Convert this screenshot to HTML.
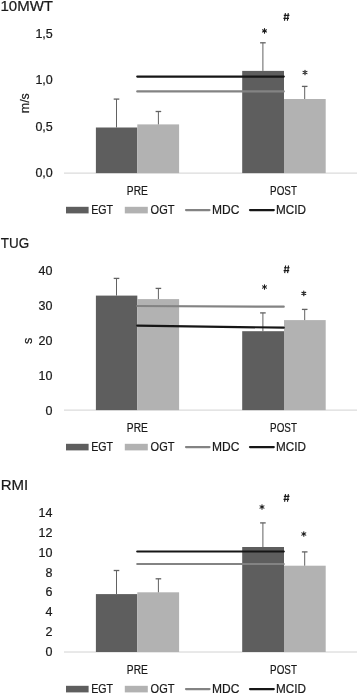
<!DOCTYPE html>
<html><head><meta charset="utf-8"><style>
html,body{margin:0;padding:0;background:#fff;}
svg{display:block;filter:grayscale(1);}
text{font-family:"Liberation Sans",sans-serif;fill:#1a1a1a;stroke:#1a1a1a;stroke-width:0.22px;}
</style></head><body>
<svg width="358" height="694" viewBox="0 0 358 694">
<rect width="358" height="694" fill="#fff"/>
<line x1="64" y1="173.1" x2="357" y2="173.1" stroke="#d2d2d2" stroke-width="1"/>
<rect x="95.9" y="127.5" width="41.4" height="45.6" fill="#5e5e5e"/>
<rect x="137.3" y="124.4" width="41.8" height="48.7" fill="#b2b2b2"/>
<rect x="242.2" y="70.9" width="41.8" height="102.2" fill="#5e5e5e"/>
<rect x="284.0" y="99.0" width="41.7" height="74.1" fill="#b2b2b2"/>
<line x1="116.5" y1="127.5" x2="116.5" y2="99.1" stroke="#626262" stroke-width="1"/>
<line x1="113.7" y1="99.1" x2="119.3" y2="99.1" stroke="#626262" stroke-width="1.3"/>
<line x1="158.4" y1="124.4" x2="158.4" y2="111.5" stroke="#626262" stroke-width="1"/>
<line x1="155.6" y1="111.5" x2="161.2" y2="111.5" stroke="#626262" stroke-width="1.3"/>
<line x1="262.9" y1="70.9" x2="262.9" y2="42.8" stroke="#626262" stroke-width="1"/>
<line x1="260.1" y1="42.8" x2="265.7" y2="42.8" stroke="#626262" stroke-width="1.3"/>
<line x1="304.7" y1="99.0" x2="304.7" y2="86.4" stroke="#626262" stroke-width="1"/>
<line x1="301.9" y1="86.4" x2="307.5" y2="86.4" stroke="#626262" stroke-width="1.3"/>
<line x1="137.25" y1="91.4" x2="283.75" y2="91.4" stroke="#838383" stroke-width="2.2" stroke-linecap="round"/>
<line x1="137.25" y1="76.6" x2="283.75" y2="76.6" stroke="#161616" stroke-width="2.2" stroke-linecap="round"/>
<path transform="translate(264.5,30.9)" d="M0,-2.25V2.25M-1.95,-1.12L1.95,1.12M-1.95,1.12L1.95,-1.12" stroke="#1a1a1a" stroke-width="1.1" stroke-linecap="round" fill="none"/>
<path transform="translate(305.0,72.5)" d="M0,-2.25V2.25M-1.95,-1.12L1.95,1.12M-1.95,1.12L1.95,-1.12" stroke="#1a1a1a" stroke-width="1.1" stroke-linecap="round" fill="none"/>
<path transform="translate(286.5,16.9)" d="M-1.1,-3.8L-2.0,3.8M1.8,-3.8L0.9,3.8M-2.7,-1.5H2.9M-3.1,1.4H2.5" stroke="#1a1a1a" stroke-width="1.15" fill="none"/>
<rect x="66" y="206.8" width="22.6" height="6.6" fill="#5e5e5e"/>
<rect x="124.8" y="206.8" width="23" height="6.6" fill="#b2b2b2"/>
<line x1="186" y1="210.1" x2="209.5" y2="210.1" stroke="#838383" stroke-width="2.2" stroke-linecap="round"/>
<line x1="250" y1="210.1" x2="273.8" y2="210.1" stroke="#161616" stroke-width="2.2" stroke-linecap="round"/>
<line x1="64" y1="410.1" x2="357" y2="410.1" stroke="#d2d2d2" stroke-width="1"/>
<rect x="95.9" y="295.6" width="41.4" height="114.5" fill="#5e5e5e"/>
<rect x="137.3" y="299.1" width="41.8" height="111.0" fill="#b2b2b2"/>
<rect x="242.2" y="331.2" width="41.8" height="78.9" fill="#5e5e5e"/>
<rect x="284.0" y="320.1" width="41.7" height="90.0" fill="#b2b2b2"/>
<line x1="116.5" y1="295.6" x2="116.5" y2="278.4" stroke="#626262" stroke-width="1"/>
<line x1="113.7" y1="278.4" x2="119.3" y2="278.4" stroke="#626262" stroke-width="1.3"/>
<line x1="158.4" y1="299.1" x2="158.4" y2="288.4" stroke="#626262" stroke-width="1"/>
<line x1="155.6" y1="288.4" x2="161.2" y2="288.4" stroke="#626262" stroke-width="1.3"/>
<line x1="262.9" y1="331.2" x2="262.9" y2="312.9" stroke="#626262" stroke-width="1"/>
<line x1="260.1" y1="312.9" x2="265.7" y2="312.9" stroke="#626262" stroke-width="1.3"/>
<line x1="304.7" y1="320.1" x2="304.7" y2="309.4" stroke="#626262" stroke-width="1"/>
<line x1="301.9" y1="309.4" x2="307.5" y2="309.4" stroke="#626262" stroke-width="1.3"/>
<line x1="137.25" y1="306.0" x2="283.75" y2="306.7" stroke="#838383" stroke-width="2.2" stroke-linecap="round"/>
<line x1="137.25" y1="325.6" x2="283.75" y2="327.7" stroke="#161616" stroke-width="2.2" stroke-linecap="round"/>
<path transform="translate(264.5,287.0)" d="M0,-2.25V2.25M-1.95,-1.12L1.95,1.12M-1.95,1.12L1.95,-1.12" stroke="#1a1a1a" stroke-width="1.1" stroke-linecap="round" fill="none"/>
<path transform="translate(303.8,293.4)" d="M0,-2.25V2.25M-1.95,-1.12L1.95,1.12M-1.95,1.12L1.95,-1.12" stroke="#1a1a1a" stroke-width="1.1" stroke-linecap="round" fill="none"/>
<path transform="translate(286.7,269.3)" d="M-1.1,-3.8L-2.0,3.8M1.8,-3.8L0.9,3.8M-2.7,-1.5H2.9M-3.1,1.4H2.5" stroke="#1a1a1a" stroke-width="1.15" fill="none"/>
<rect x="66" y="443.8" width="22.6" height="6.6" fill="#5e5e5e"/>
<rect x="124.8" y="443.8" width="23" height="6.6" fill="#b2b2b2"/>
<line x1="186" y1="447.1" x2="209.5" y2="447.1" stroke="#838383" stroke-width="2.2" stroke-linecap="round"/>
<line x1="250" y1="447.1" x2="273.8" y2="447.1" stroke="#161616" stroke-width="2.2" stroke-linecap="round"/>
<line x1="64" y1="652.0" x2="357" y2="652.0" stroke="#d2d2d2" stroke-width="1"/>
<rect x="95.9" y="594.1" width="41.4" height="57.9" fill="#5e5e5e"/>
<rect x="137.3" y="592.3" width="41.8" height="59.7" fill="#b2b2b2"/>
<rect x="242.2" y="547.0" width="41.8" height="105.0" fill="#5e5e5e"/>
<rect x="284.0" y="565.7" width="41.7" height="86.3" fill="#b2b2b2"/>
<line x1="116.5" y1="594.1" x2="116.5" y2="570.5" stroke="#626262" stroke-width="1"/>
<line x1="113.7" y1="570.5" x2="119.3" y2="570.5" stroke="#626262" stroke-width="1.3"/>
<line x1="158.4" y1="592.3" x2="158.4" y2="578.8" stroke="#626262" stroke-width="1"/>
<line x1="155.6" y1="578.8" x2="161.2" y2="578.8" stroke="#626262" stroke-width="1.3"/>
<line x1="262.9" y1="547.0" x2="262.9" y2="522.9" stroke="#626262" stroke-width="1"/>
<line x1="260.1" y1="522.9" x2="265.7" y2="522.9" stroke="#626262" stroke-width="1.3"/>
<line x1="304.7" y1="565.7" x2="304.7" y2="551.9" stroke="#626262" stroke-width="1"/>
<line x1="301.9" y1="551.9" x2="307.5" y2="551.9" stroke="#626262" stroke-width="1.3"/>
<line x1="137.25" y1="564.0" x2="283.75" y2="564.0" stroke="#838383" stroke-width="2.2" stroke-linecap="round"/>
<line x1="137.25" y1="551.5" x2="283.75" y2="551.5" stroke="#161616" stroke-width="2.2" stroke-linecap="round"/>
<path transform="translate(262.0,507.0)" d="M0,-2.25V2.25M-1.95,-1.12L1.95,1.12M-1.95,1.12L1.95,-1.12" stroke="#1a1a1a" stroke-width="1.1" stroke-linecap="round" fill="none"/>
<path transform="translate(303.8,534.0)" d="M0,-2.25V2.25M-1.95,-1.12L1.95,1.12M-1.95,1.12L1.95,-1.12" stroke="#1a1a1a" stroke-width="1.1" stroke-linecap="round" fill="none"/>
<path transform="translate(286.6,497.9)" d="M-1.1,-3.8L-2.0,3.8M1.8,-3.8L0.9,3.8M-2.7,-1.5H2.9M-3.1,1.4H2.5" stroke="#1a1a1a" stroke-width="1.15" fill="none"/>
<rect x="66" y="685.8" width="22.6" height="6.6" fill="#5e5e5e"/>
<rect x="124.8" y="685.8" width="23" height="6.6" fill="#b2b2b2"/>
<line x1="186" y1="689.1" x2="209.5" y2="689.1" stroke="#838383" stroke-width="2.2" stroke-linecap="round"/>
<line x1="250" y1="689.1" x2="273.8" y2="689.1" stroke="#161616" stroke-width="2.2" stroke-linecap="round"/>
<text id="t1" x="0.49" y="11.00" font-size="14.00" textLength="52.55" lengthAdjust="spacingAndGlyphs">10MWT</text>
<text id="t2" x="0.80" y="248.00" font-size="14.00" textLength="28.34" lengthAdjust="spacingAndGlyphs">TUG</text>
<text id="t3" x="0.65" y="490.00" font-size="14.00" textLength="27.54" lengthAdjust="spacingAndGlyphs">RMI</text>
<text id="y1_0,0" x="52.80" y="177.00" font-size="12.50" text-anchor="end">0,0</text>
<text id="y1_0,5" x="52.78" y="131.00" font-size="12.50" text-anchor="end">0,5</text>
<text id="y1_1,0" x="52.80" y="84.00" font-size="12.50" text-anchor="end">1,0</text>
<text id="y1_1,5" x="52.78" y="38.00" font-size="12.50" text-anchor="end">1,5</text>
<text id="y2_0" x="52.36" y="415.00" font-size="12.50" text-anchor="end">0</text>
<text id="y2_10" x="52.41" y="380.00" font-size="12.50" text-anchor="end">10</text>
<text id="y2_20" x="52.41" y="345.00" font-size="12.50" text-anchor="end">20</text>
<text id="y2_30" x="52.40" y="310.00" font-size="12.50" text-anchor="end">30</text>
<text id="y2_40" x="52.36" y="275.00" font-size="12.50" text-anchor="end">40</text>
<text id="y3_0" x="52.36" y="656.00" font-size="12.50" text-anchor="end">0</text>
<text id="y3_2" x="52.47" y="636.00" font-size="12.50" text-anchor="end">2</text>
<text id="y3_4" x="52.46" y="616.00" font-size="12.50" text-anchor="end">4</text>
<text id="y3_6" x="52.48" y="596.00" font-size="12.50" text-anchor="end">6</text>
<text id="y3_8" x="52.50" y="577.00" font-size="12.50" text-anchor="end">8</text>
<text id="y3_10" x="52.41" y="557.00" font-size="12.50" text-anchor="end">10</text>
<text id="y3_12" x="52.47" y="537.00" font-size="12.50" text-anchor="end">12</text>
<text id="y3_14" x="52.52" y="517.00" font-size="12.50" text-anchor="end">14</text>
<text id="ms" transform="translate(29.00,103.20) rotate(-90)" font-size="12.50" text-anchor="middle" textLength="20.00" lengthAdjust="spacingAndGlyphs">m/s</text>
<text id="s2" transform="translate(32.00,340.90) rotate(-90)" font-size="12.50" text-anchor="middle">s</text>
<text id="pre0" x="126.83" y="195.00" font-size="12.50" textLength="20.98" lengthAdjust="spacingAndGlyphs">PRE</text>
<text id="post0" x="270.12" y="195.00" font-size="12.50" textLength="26.81" lengthAdjust="spacingAndGlyphs">POST</text>
<text id="egt0" x="91.14" y="214.00" font-size="12.30" textLength="21.82" lengthAdjust="spacingAndGlyphs">EGT</text>
<text id="ogt0" x="150.60" y="214.00" font-size="12.30" textLength="23.84" lengthAdjust="spacingAndGlyphs">OGT</text>
<text id="mdc0" x="212.05" y="214.00" font-size="12.30" textLength="27.36" lengthAdjust="spacingAndGlyphs">MDC</text>
<text id="mcid0" x="276.08" y="214.00" font-size="12.30" textLength="29.92" lengthAdjust="spacingAndGlyphs">MCID</text>
<text id="pre1" x="126.83" y="432.00" font-size="12.50" textLength="20.98" lengthAdjust="spacingAndGlyphs">PRE</text>
<text id="post1" x="270.12" y="432.00" font-size="12.50" textLength="26.81" lengthAdjust="spacingAndGlyphs">POST</text>
<text id="egt1" x="91.14" y="451.00" font-size="12.30" textLength="21.82" lengthAdjust="spacingAndGlyphs">EGT</text>
<text id="ogt1" x="150.60" y="451.00" font-size="12.30" textLength="23.84" lengthAdjust="spacingAndGlyphs">OGT</text>
<text id="mdc1" x="212.05" y="451.00" font-size="12.30" textLength="27.36" lengthAdjust="spacingAndGlyphs">MDC</text>
<text id="mcid1" x="276.08" y="451.00" font-size="12.30" textLength="29.92" lengthAdjust="spacingAndGlyphs">MCID</text>
<text id="pre2" x="126.83" y="674.00" font-size="12.50" textLength="20.98" lengthAdjust="spacingAndGlyphs">PRE</text>
<text id="post2" x="270.12" y="674.00" font-size="12.50" textLength="26.81" lengthAdjust="spacingAndGlyphs">POST</text>
<text id="egt2" x="91.14" y="693.00" font-size="12.30" textLength="21.82" lengthAdjust="spacingAndGlyphs">EGT</text>
<text id="ogt2" x="150.60" y="693.00" font-size="12.30" textLength="23.84" lengthAdjust="spacingAndGlyphs">OGT</text>
<text id="mdc2" x="212.05" y="693.00" font-size="12.30" textLength="27.36" lengthAdjust="spacingAndGlyphs">MDC</text>
<text id="mcid2" x="276.08" y="693.00" font-size="12.30" textLength="29.92" lengthAdjust="spacingAndGlyphs">MCID</text>
</svg>
</body></html>
